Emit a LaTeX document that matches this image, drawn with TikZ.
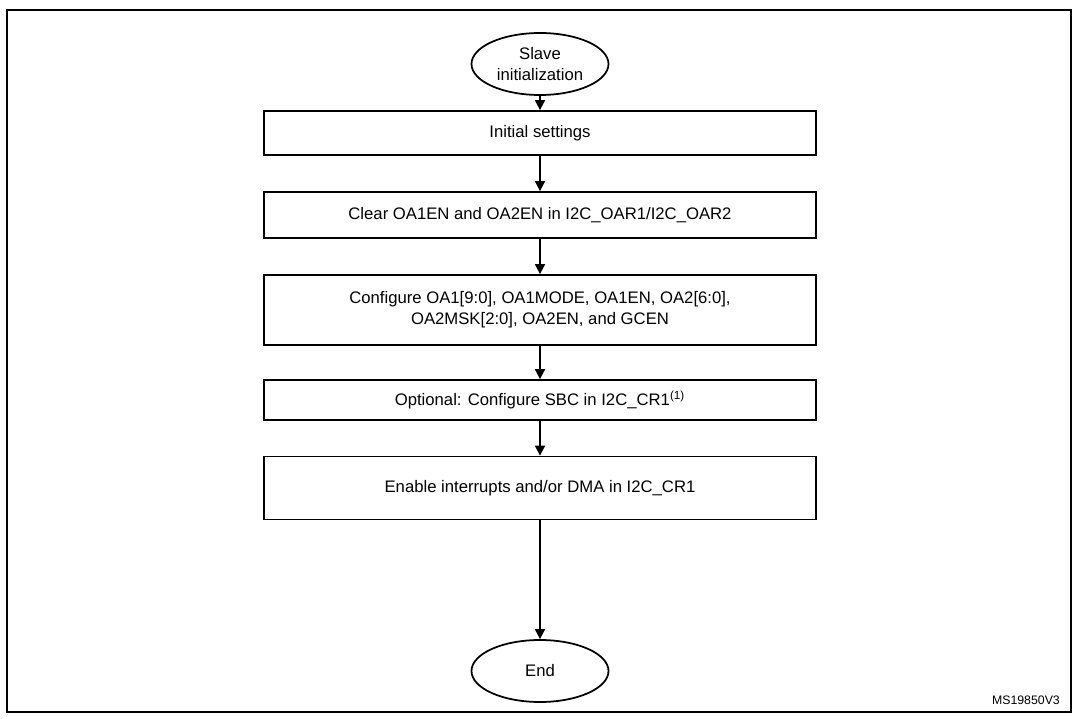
\documentclass[tikz,border=0pt]{standalone}
\usepackage{fontspec}
\setmainfont{Liberation Sans}
\usetikzlibrary{arrows.meta,shapes.geometric}
\tikzset{
  flownode/.style = {draw, line width=1pt, align=center, inner sep=0pt,
                     font=\fontsize{9.5}{12}\selectfont},
  termnode/.style = {flownode, ellipse, minimum width=137*0.02cm, minimum height=62*0.02cm},
  stepbox/.style  = {flownode, rectangle, minimum width=552*0.02cm},
  conn/.style     = {-{Triangle[length=2mm,width=2mm]}, line width=1pt}
}

\begin{document}
\begin{tikzpicture}[x=0.02cm,y=-0.02cm]
\useasboundingbox (0,0) rectangle (1079,719);
\draw[line width=0.8pt] (7,10) rectangle (1071,712);

% --- flow nodes ---
\node[termnode] (start) at (540,64) {Slave\\initialization};
\node[stepbox, minimum height=44*0.02cm] (init) at (540,133) {Initial settings};
\node[stepbox, minimum height=46*0.02cm] (clear) at (540,215) {Clear OA1EN and OA2EN in I2C\_OAR1/I2C\_OAR2};
\node[stepbox, minimum height=70*0.02cm] (conf) at (540,310) {Configure OA1[9:0], OA1MODE, OA1EN, OA2[6:0],\\OA2MSK[2:0], OA2EN, and GCEN};
\node[stepbox, minimum height=40*0.02cm] (sbc) at (540,400) {Optional: Configure SBC in I2C\_CR1\textsuperscript{(1)}};
\node[stepbox, minimum height=63*0.02cm] (irq) at (540,488) {Enable interrupts and/or DMA in I2C\_CR1};
\node[termnode] (end) at (540,671) {End};

\node[font=\fontsize{7}{8}\selectfont, anchor=east] (ref) at (1066,700) {MS19850V3};

% --- connections ---
\foreach \a/\b in {start/init, init/clear, clear/conf, conf/sbc, sbc/irq, irq/end}
  \draw[conn] (\a) -- (\b);

\end{tikzpicture}
\end{document}
